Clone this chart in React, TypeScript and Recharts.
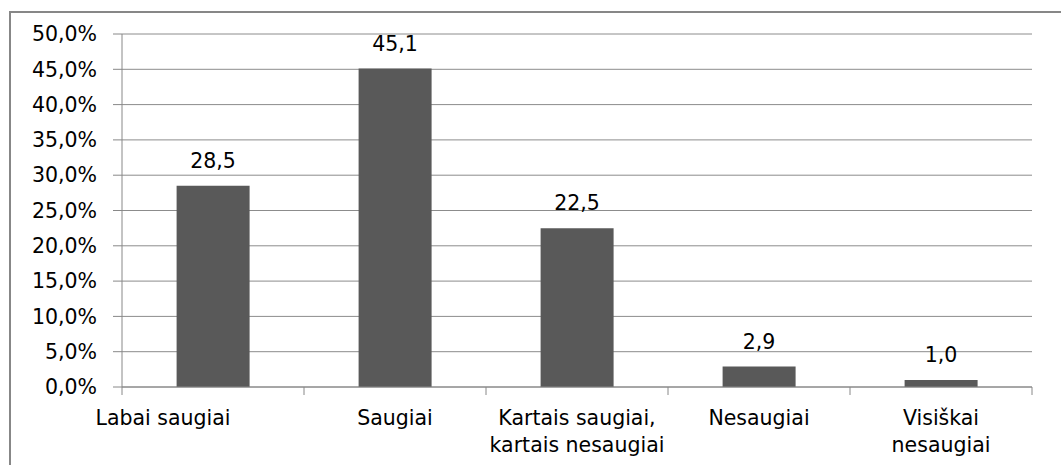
import { BarChart, Bar, XAxis, YAxis, CartesianGrid, LabelList } from "recharts";

const categories = [
  "Labai saugiai",
  "Saugiai",
  "Kartais saugiai,|kartais nesaugiai",
  "Nesaugiai",
  "Visiškai|nesaugiai",
];
const values = [28.5, 45.1, 22.5, 2.9, 1.0];
const yTicks = [0, 5, 10, 15, 20, 25, 30, 35, 40, 45, 50];

const data = categories.map((name, i) => ({ name, value: values[i] }));

const FONT = "'DejaVu Sans', sans-serif";
const FS = 20.5;
const comma = (v: number, d: number) => v.toFixed(d).replace(".", ",");

function CategoryTick(props: any) {
  const { x, y, payload, index } = props;
  const half = payload?.offset ?? 91;
  const lines = String(payload.value).split("|");
  const shift = index === 0 ? -50 : 0;
  return (
    <g>
      <line x1={x - half} y1={y} x2={x - half} y2={y + 8} stroke="#888" strokeWidth={1} />
      {index === categories.length - 1 && (
        <line x1={x + half} y1={y} x2={x + half} y2={y + 8} stroke="#888" strokeWidth={1} />
      )}
      <text
        x={x + shift}
        y={y + 38}
        textAnchor="middle"
        fontFamily={FONT}
        fontSize={FS}
        fill="#000"
      >
        {lines.map((l, i) => (
          <tspan key={i} x={x + shift} dy={i === 0 ? 0 : 27}>
            {l}
          </tspan>
        ))}
      </text>
    </g>
  );
}

export default function App() {
  return (
    <div
      style={{
        position: "fixed",
        left: 0,
        top: 0,
        width: 1061,
        height: 465,
        overflow: "hidden",
        background: "#fff",
      }}
    >
      <div
        style={{
          position: "absolute",
          left: 9,
          top: 11,
          width: 1080,
          height: 500,
          border: "2px solid #878787",
        }}
      />
      <div style={{ position: "absolute", left: 0, top: 0 }}>
        <BarChart
          width={1061}
          height={465}
          data={data}
          margin={{ top: 34, right: 29, left: 0, bottom: 0 }}
          barCategoryGap="30%"
        >
          <CartesianGrid vertical={false} stroke="#8c8c8c" strokeWidth={1} />
          <XAxis
            dataKey="name"
            height={78}
            interval={0}
            tickSize={0}
            tickMargin={0}
            tickLine={false}
            axisLine={{ stroke: "#888", strokeWidth: 1 }}
            tick={<CategoryTick />}
          />
          <YAxis
            width={122}
            domain={[0, 50]}
            ticks={yTicks}
            interval={0}
            tickSize={9}
            tickMargin={16}
            tickLine={{ stroke: "#888" }}
            axisLine={{ stroke: "#888" }}
            tickFormatter={(v: number) => `${comma(v, 1)}%`}
            tick={{ fontFamily: FONT, fontSize: FS, fill: "#000" }}
          />
          <Bar dataKey="value" fill="#595959" isAnimationActive={false}>
            <LabelList
              dataKey="value"
              position="top"
              offset={18}
              formatter={(v: number) => comma(v, 1)}
              style={{ fontFamily: FONT, fontSize: FS, fill: "#000" }}
            />
          </Bar>
        </BarChart>
      </div>
    </div>
  );
}
